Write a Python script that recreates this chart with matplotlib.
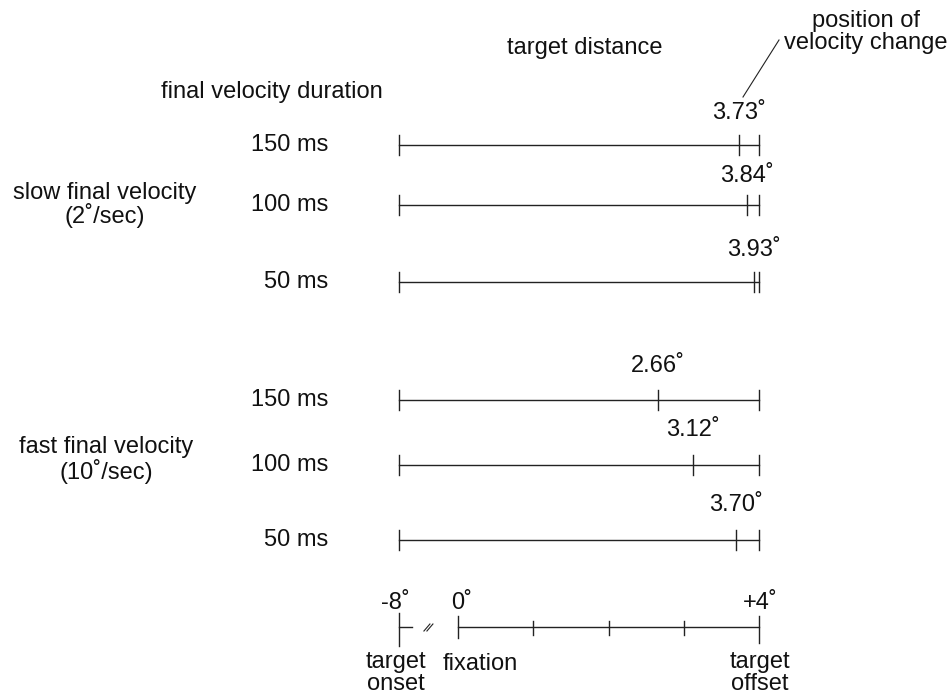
import matplotlib
matplotlib.use("Agg")
import matplotlib.pyplot as plt

plt.rcParams['font.family'] = ['Liberation Sans', 'DejaVu Sans']

# data
durations = ["150 ms", "100 ms", "50 ms"]
slow_change = [3.73, 3.84, 3.93]
fast_change = [2.66, 3.12, 3.70]
target_offset = 4.0
scale_ticks = [0, 1, 2, 3, 4]
onset_label = "-8˚"

# layout
W, H = 953, 697
px_per_deg = 75.25
x0_px = 458
fig = plt.figure(figsize=(W / 100, H / 100), dpi=100)
ax = fig.add_axes([0, 0, 1, 1])
ax.set_xlim(-x0_px / px_per_deg, (W - x0_px) / px_per_deg)
ax.set_ylim(H, 0)
ax.axis('off')

onset_x = -0.785   # display position of target onset (broken axis)
col = '#222222'
tcol = '#111111'
lw = 1.0
fs = 17
ls = 1.0

def px(dx):
    return dx / px_per_deg

slow_rows = [145, 205, 282]
fast_rows = [400, 465, 540]
slow_lab_y = [113, 176, 250]
fast_lab_y = [366, 430, 505]

def draw_row(y, change, lab_y):
    ax.plot([onset_x, target_offset], [y, y], color=col, lw=lw)
    ax.plot([onset_x, onset_x], [y - 10, y + 10], color=col, lw=lw)
    ax.plot([target_offset, target_offset], [y - 10, y + 10], color=col, lw=lw)
    ax.plot([change, change], [y - 10, y + 10], color=col, lw=lw)
    ax.text(change, lab_y, f"{change:.2f}˚", ha='center', va='center', fontsize=fs, color=tcol)

for i, d in enumerate(durations):
    draw_row(slow_rows[i], slow_change[i], slow_lab_y[i])
    ax.text(px(328 - x0_px), slow_rows[i], d, ha='right', va='center', fontsize=fs, color=tcol)
    draw_row(fast_rows[i], fast_change[i], fast_lab_y[i])
    ax.text(px(328 - x0_px), fast_rows[i], d, ha='right', va='center', fontsize=fs, color=tcol)

ax.text(px(105 - x0_px), 205, "slow final velocity\n(2˚/sec)", ha='center', va='center',
        fontsize=fs, color=tcol, linespacing=ls)
ax.text(px(106 - x0_px), 460, "fast final velocity\n(10˚/sec)", ha='center', va='center',
        fontsize=fs, color=tcol, linespacing=ls)
ax.text(px(272 - x0_px), 92, "final velocity duration", ha='center', va='center', fontsize=fs, color=tcol)
ax.text(px(585 - x0_px), 48, "target distance", ha='center', va='center', fontsize=fs, color=tcol)
ax.text(px(866 - x0_px), 32, "position of\nvelocity change", ha='center', va='center',
        fontsize=fs, color=tcol, linespacing=ls)
ax.plot([px(743 - x0_px), px(779 - x0_px)], [97, 40], color=col, lw=0.8)

# bottom scale
sy = 627
ax.plot([scale_ticks[0], scale_ticks[-1]], [sy, sy], color=col, lw=lw)
for t in scale_ticks:
    if t == scale_ticks[0]:
        ax.plot([t, t], [616, 638], color=col, lw=lw)
    elif t == scale_ticks[-1]:
        ax.plot([t, t], [616, 643], color=col, lw=lw)
    else:
        ax.plot([t, t], [621, 635], color=col, lw=lw)
ax.plot([onset_x, onset_x], [613, 646], color=col, lw=lw)
ax.plot([onset_x, onset_x + px(13)], [sy, sy], color=col, lw=lw)
# break marks
for dx in (0, 3):
    ax.plot([onset_x + px(25 + dx), onset_x + px(31 + dx)], [631, 624], color=col, lw=0.8)

ax.text(onset_x - px(3), 603, onset_label, ha='center', va='center', fontsize=fs, color=tcol)
ax.text(scale_ticks[0] + px(4), 603, f"{scale_ticks[0]}˚", ha='center', va='center', fontsize=fs, color=tcol)
ax.text(scale_ticks[-1] + px(1), 603, f"+{scale_ticks[-1]}˚", ha='center', va='center', fontsize=fs, color=tcol)
ax.text(onset_x - px(3), 673, "target\nonset", ha='center', va='center', fontsize=fs,
        color=tcol, linespacing=0.95)
ax.text(scale_ticks[0] + px(22), 664, "fixation", ha='center', va='center', fontsize=fs, color=tcol)
ax.text(scale_ticks[-1] + px(1), 673, "target\noffset", ha='center', va='center', fontsize=fs,
        color=tcol, linespacing=0.95)

fig.savefig("out.png", dpi=100)
